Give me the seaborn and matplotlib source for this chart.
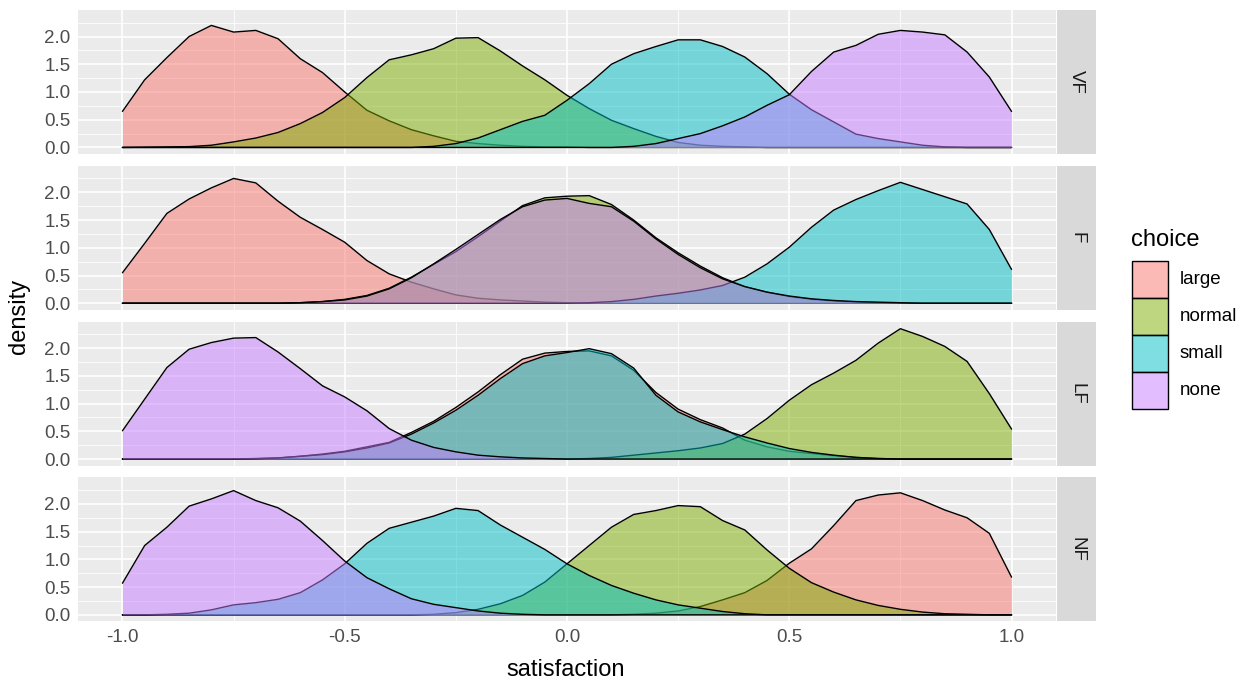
import numpy as np
import pandas as pd
import matplotlib
matplotlib.use("Agg")
import matplotlib.pyplot as plt
from matplotlib.patches import Rectangle
from matplotlib.colors import to_rgba
import seaborn as sns

# ---------------- data ----------------
satisfaction = [-1.00, -0.95, -0.90, -0.85, -0.80, -0.75, -0.70, -0.65, -0.60, -0.55,
                -0.50, -0.45, -0.40, -0.35, -0.30, -0.25, -0.20, -0.15, -0.10, -0.05,
                0.00, 0.05, 0.10, 0.15, 0.20, 0.25, 0.30, 0.35, 0.40, 0.45,
                0.50, 0.55, 0.60, 0.65, 0.70, 0.75, 0.80, 0.85, 0.90, 0.95, 1.00]

panels = ["VF", "F", "LF", "NF"]
choices = ["large", "normal", "small", "none"]
fill_colors = ["#F8766D", "#7CAE00", "#00BFC4", "#C77CFF"]
x_ticks = [-1.0, -0.5, 0.0, 0.5, 1.0]
x_tick_labels = ["-1.0", "-0.5", "0.0", "0.5", "1.0"]
y_ticks = [0.0, 0.5, 1.0, 1.5, 2.0]
y_tick_labels = ["0.0", "0.5", "1.0", "1.5", "2.0"]

vf_large = [0.65, 1.22, 1.62, 2.00, 2.20, 2.08, 2.11, 1.96, 1.60, 1.35,
            1.00, 0.67, 0.48, 0.32, 0.21, 0.11, 0.07, 0.04, 0.02, 0.01,
            0.01] + [0.0] * 20
vf_normal = [0.0, 0.005, 0.01, 0.015, 0.04, 0.10, 0.17, 0.27, 0.43, 0.63,
             0.90, 1.26, 1.58, 1.67, 1.78, 1.97, 1.98, 1.74, 1.47, 1.22,
             0.94, 0.70, 0.49, 0.34, 0.20, 0.09, 0.04, 0.02, 0.01] + [0.0] * 12
vf_small = [0.0] * 14 + [0.02, 0.07, 0.17, 0.32, 0.47, 0.58, 0.85, 1.15, 1.50, 1.69,
                         1.82, 1.94, 1.94, 1.82, 1.63, 1.33, 0.96, 0.68, 0.46, 0.24,
                         0.16, 0.10, 0.04, 0.01] + [0.0] * 3
vf_none = [0.0] * 23 + [0.02, 0.07, 0.16, 0.25, 0.39, 0.55, 0.76, 0.95, 1.37, 1.72,
                        1.84, 2.04, 2.11, 2.08, 2.03, 1.72, 1.27, 0.65]

f_large = [0.55, 1.08, 1.62, 1.88, 2.08, 2.25, 2.17, 1.84, 1.55, 1.33,
           1.10, 0.77, 0.53, 0.38, 0.26, 0.15, 0.09, 0.06, 0.04, 0.02,
           0.01] + [0.0] * 20
f_normal = [0.0] * 8 + [0.01, 0.03, 0.07, 0.14, 0.27, 0.47, 0.70, 0.93, 1.20, 1.48,
                        1.76, 1.90, 1.93, 1.94, 1.78, 1.50, 1.18, 0.91, 0.67, 0.46,
                        0.30, 0.20, 0.12, 0.07, 0.04, 0.02, 0.01] + [0.0] * 6
f_small = [0.0] * 21 + [0.01, 0.03, 0.07, 0.13, 0.18, 0.24, 0.32, 0.47, 0.71, 1.01,
                        1.37, 1.68, 1.87, 2.03, 2.18, 2.05, 1.92, 1.79, 1.33, 0.61]
f_none = [0.0] * 8 + [0.01, 0.03, 0.06, 0.13, 0.26, 0.46, 0.71, 0.97, 1.24, 1.51,
                      1.74, 1.86, 1.89, 1.80, 1.74, 1.48, 1.16, 0.88, 0.64, 0.44,
                      0.30, 0.20, 0.13, 0.08, 0.05, 0.03, 0.02, 0.01] + [0.0] * 5

lf_large = [0.0] * 6 + [0.01, 0.02, 0.05, 0.09, 0.14, 0.22, 0.30, 0.48, 0.68, 0.93,
                        1.21, 1.52, 1.80, 1.91, 1.94, 1.95, 1.86, 1.60, 1.20, 0.90,
                        0.71, 0.56, 0.34, 0.22, 0.14, 0.10, 0.06, 0.03, 0.01] + [0.0] * 6
lf_normal = [0.0] * 21 + [0.01, 0.03, 0.07, 0.11, 0.15, 0.20, 0.28, 0.45, 0.73, 1.06,
                          1.34, 1.55, 1.78, 2.09, 2.35, 2.21, 2.03, 1.76, 1.18, 0.54]
lf_small = [0.0] * 6 + [0.005, 0.02, 0.05, 0.08, 0.13, 0.20, 0.29, 0.45, 0.65, 0.88,
                        1.15, 1.45, 1.72, 1.86, 1.92, 1.99, 1.90, 1.64, 1.15, 0.85,
                        0.67, 0.53, 0.40, 0.29, 0.19, 0.12, 0.07, 0.03, 0.01] + [0.0] * 6
lf_none = [0.51, 1.08, 1.65, 1.98, 2.10, 2.18, 2.19, 1.93, 1.63, 1.32,
           1.12, 0.87, 0.55, 0.34, 0.21, 0.13, 0.07, 0.04, 0.02, 0.01,
           0.0] + [0.0] * 20

nf_large = [0.0] * 23 + [0.01, 0.03, 0.07, 0.15, 0.27, 0.40, 0.62, 0.93, 1.19, 1.61,
                         2.06, 2.16, 2.20, 2.06, 1.89, 1.75, 1.47, 0.68]
nf_normal = [0.0] * 14 + [0.01, 0.04, 0.10, 0.20, 0.35, 0.59, 0.92, 1.25, 1.58, 1.81,
                          1.88, 1.97, 1.95, 1.70, 1.53, 1.17, 0.84, 0.58, 0.41, 0.27,
                          0.17, 0.10, 0.05, 0.02, 0.01] + [0.0] * 2
nf_small = [0.0] * 2 + [0.01, 0.03, 0.09, 0.18, 0.22, 0.28, 0.40, 0.63, 0.92, 1.29,
                        1.56, 1.67, 1.78, 1.92, 1.88, 1.62, 1.40, 1.18, 0.92, 0.71,
                        0.53, 0.39, 0.27, 0.18, 0.12, 0.06, 0.02] + [0.0] * 12
nf_none = [0.57, 1.25, 1.58, 1.96, 2.09, 2.24, 2.06, 1.93, 1.69, 1.34,
           0.97, 0.67, 0.47, 0.29, 0.19, 0.13, 0.07, 0.03, 0.01, 0.0,
           0.0] + [0.0] * 20

density = {
    ("VF", "large"): vf_large, ("VF", "normal"): vf_normal,
    ("VF", "small"): vf_small, ("VF", "none"): vf_none,
    ("F", "large"): f_large, ("F", "normal"): f_normal,
    ("F", "small"): f_small, ("F", "none"): f_none,
    ("LF", "large"): lf_large, ("LF", "normal"): lf_normal,
    ("LF", "small"): lf_small, ("LF", "none"): lf_none,
    ("NF", "large"): nf_large, ("NF", "normal"): nf_normal,
    ("NF", "small"): nf_small, ("NF", "none"): nf_none,
}

rows = []
for p in panels:
    for c in choices:
        vals = density[(p, c)]
        assert len(vals) == len(satisfaction), (p, c, len(vals))
        for xv, dv in zip(satisfaction, vals):
            rows.append((p, c, xv, dv))
df = pd.DataFrame(rows, columns=["panel", "choice", "satisfaction", "density"])

# ---------------- style ----------------
sns.set_theme(style="darkgrid")
plt.rcParams["font.family"] = ["Liberation Sans", "DejaVu Sans"]

palette = dict(zip(choices, fill_colors))
W, H = 1254, 681
g = sns.FacetGrid(df, row="panel", row_order=panels, hue="choice", hue_order=choices,
                  palette=palette, sharex=True, sharey=True, height=1.5, aspect=6,
                  despine=False)


def draw_density(data, color, label=None, **kw):
    ax = plt.gca()
    ax.fill_between(data["satisfaction"], data["density"], 0, color=color,
                    alpha=0.5, linewidth=0, zorder=2)
    sns.lineplot(data=data, x="satisfaction", y="density", color="black",
                 linewidth=1.0, estimator=None, sort=False, ax=ax, zorder=2)


g.map_dataframe(draw_density)
g.set_titles(template="")
g.set_axis_labels("", "")

fig = g.figure
fig.set_size_inches(W / 100, H / 100)
fig.set_dpi(100)
fig.patch.set_facecolor("white")


def fx(px):
    return px / W


def fy(py):
    return 1 - py / H


left, right = 78, 1056
top0, ph, gap = 10, 144, 11.8
for i, ax in enumerate(g.axes.flat):
    t = top0 + i * (ph + gap)
    ax.set_position([fx(left), fy(t + ph), fx(right - left), ph / H])
    ax.set_facecolor("#EBEBEB")
    for s in ax.spines.values():
        s.set_visible(False)
    ax.set_xlim(-1.1, 1.1)
    ax.set_ylim(-0.118, 2.478)
    ax.set_yticks(y_ticks)
    ax.set_yticklabels(y_tick_labels)
    ax.set_yticks([0.25, 0.75, 1.25, 1.75, 2.25], minor=True)
    ax.set_xticks(x_ticks)
    ax.set_xticks([-0.75, -0.25, 0.25, 0.75], minor=True)
    ax.grid(which="major", color="white", linewidth=1.2)
    ax.grid(which="minor", color="white", linewidth=0.6)
    ax.set_axisbelow(True)
    ax.tick_params(axis="both", which="major", length=3.3, width=0.8, color="#333333",
                   labelcolor="#4D4D4D", labelsize=13.5, pad=2)
    ax.tick_params(axis="both", which="minor", length=0)
    ax.set_xlabel("")
    ax.set_ylabel("")
    if i < len(panels) - 1:
        ax.tick_params(axis="x", which="major", length=0, labelbottom=False)
    else:
        ax.set_xticklabels(x_tick_labels)
    # strip on the right
    sax = fig.add_axes([fx(right + 1), fy(t + ph), fx(39), ph / H])
    sax.set_facecolor("#D9D9D9")
    sax.set_xticks([])
    sax.set_yticks([])
    sax.grid(False)
    for s in sax.spines.values():
        s.set_visible(False)
    sax.text(0.5, 0.5, panels[i], rotation=270, ha="center", va="center",
             color="#1A1A1A", fontsize=13.5, transform=sax.transAxes)

fig.text(fx(565.5), fy(670), "satisfaction", ha="center", va="center",
         fontsize=17, color="black")
fig.text(fx(19), fy(316), "density", ha="center", va="center", rotation=90,
         fontsize=17, color="black")

# legend
fig.text(fx(1131), fy(240), "choice", ha="left", va="center", fontsize=17, color="black")
key_top, key_h, key_w, key_x = 261, 37, 36, 1132
for j, (c, col) in enumerate(zip(choices, fill_colors)):
    y0 = key_top + j * key_h
    fig.patches.append(Rectangle((fx(key_x), fy(y0 + key_h)), fx(key_w), key_h / H,
                                 transform=fig.transFigure, facecolor=to_rgba(col, 0.5),
                                 edgecolor="black", linewidth=1.0, figure=fig))
    fig.text(fx(1180), fy(y0 + key_h / 2), c, ha="left", va="center",
             fontsize=13.5, color="black")

fig.savefig("out.png", dpi=100)
